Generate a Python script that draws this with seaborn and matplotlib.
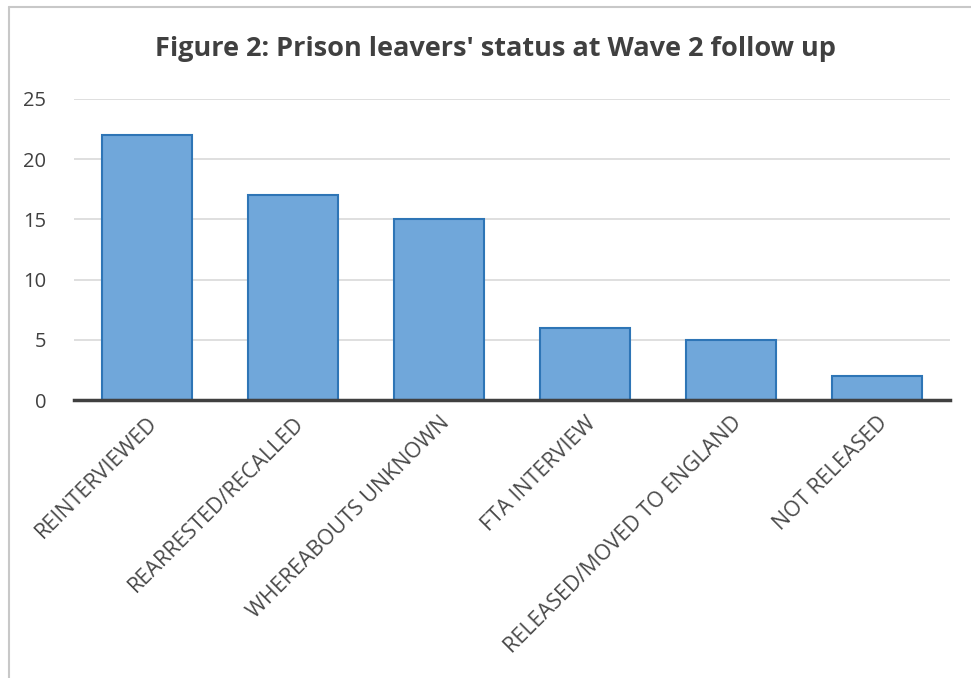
import matplotlib
matplotlib.use("Agg")
import matplotlib.pyplot as plt
import seaborn as sns
import pandas as pd

categories = ["REINTERVIEWED", "REARRESTED/RECALLED", "WHEREABOUTS UNKNOWN",
              "FTA INTERVIEW", "RELEASED/MOVED TO ENGLAND", "NOT RELEASED"]
values = [22, 17, 15, 6, 5, 2]
yticks = [0, 5, 10, 15, 20, 25]
title = "Figure 2: Prison leavers' status at Wave 2 follow up"

sns.set_theme(style="white")
plt.rcParams['font.family'] = ['Open Sans', 'DejaVu Sans']

df = pd.DataFrame({"category": categories, "value": values})

fig = plt.figure(figsize=(9.71, 6.78), dpi=100)
ax = fig.add_axes([74/971, 1-400/678, (950-74)/971, (400-99)/678])

sns.barplot(data=df, x="category", y="value", ax=ax, color="#70A7DA",
            edgecolor="#2E75B6", linewidth=1.5, width=0.61, saturation=1)

ax.set_ylim(0, 25)
ax.set_xlim(-0.5, 5.5)
ax.set_yticks(yticks)
ax.yaxis.grid(True, color="#D9D9D9", linewidth=1.2)
ax.set_axisbelow(True)
for s in ["left", "right", "top"]:
    ax.spines[s].set_visible(False)
ax.spines["bottom"].set_color("#404040")
ax.spines["bottom"].set_linewidth(2.5)
ax.spines["bottom"].set_zorder(5)
ax.set_xlabel("")
ax.set_ylabel("")
ax.tick_params(axis="y", length=0, pad=20, labelsize=14.5, labelcolor="#404040")
ax.tick_params(axis="x", length=0, pad=9, labelsize=15.5, labelcolor="#4A4A4A")
for lab in ax.get_xticklabels():
    lab.set_rotation(45)
    lab.set_ha("right")
    lab.set_va("top")
    lab.set_rotation_mode("anchor")

fig.text(495/971, 1-49/678, title, ha="center", va="center",
         fontsize=19.5, fontweight="bold", color="#404040")

# chart border (left and top visible)
fig.add_artist(plt.Line2D([9/971, 9/971], [0, 1-7/678], transform=fig.transFigure,
                          color="#C8C8C8", linewidth=1.5))
fig.add_artist(plt.Line2D([9/971, 1], [1-7/678, 1-7/678], transform=fig.transFigure,
                          color="#C8C8C8", linewidth=1.5))

fig.savefig("out.png", dpi=100)
